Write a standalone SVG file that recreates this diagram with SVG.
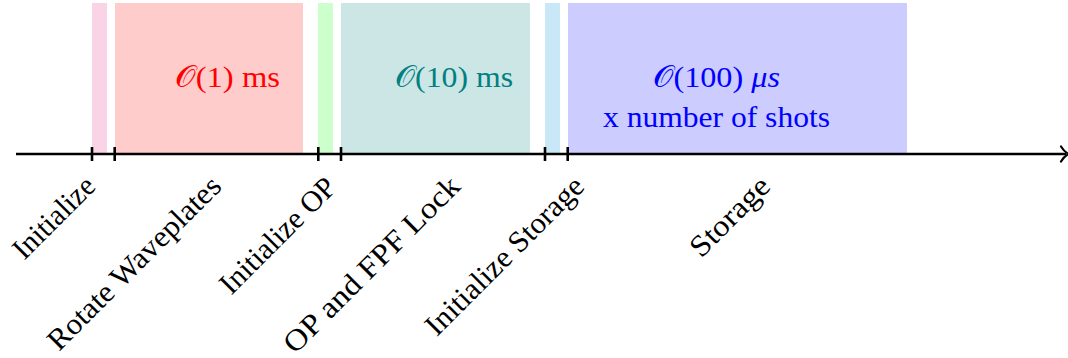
<svg xmlns="http://www.w3.org/2000/svg" width="1068" height="358" viewBox="0 0 1068 358">
<style>
.lbl{font-family:"Liberation Serif","DejaVu Serif",serif;font-size:30px;fill:#000;text-anchor:end}
.dur{font-family:"Liberation Serif","DejaVu Serif",serif;font-size:30px;text-anchor:middle}
.tick{stroke:#000;stroke-width:2.6}
</style>
<rect width="1068" height="358" fill="#fff"/>
<g id="phase-initialize"><rect x="92" y="3" width="15" height="151" fill="#f8d4e6"/><text class="lbl" transform="translate(97,188) rotate(-45)" textLength="103" lengthAdjust="spacingAndGlyphs">Initialize</text></g>
<g id="phase-rotate"><rect x="115" y="3" width="188" height="151" fill="#ffcccc"/><text class="dur" x="227.5" y="87" fill="#ff0000" textLength="105" lengthAdjust="spacingAndGlyphs">𝒪(1) ms</text><text class="lbl" transform="translate(223,188) rotate(-45)" textLength="232" lengthAdjust="spacingAndGlyphs">Rotate Waveplates</text></g>
<g id="phase-init-op"><rect x="318" y="3" width="15" height="151" fill="#ccffcc"/><text class="lbl" transform="translate(338,189) rotate(-45)" textLength="151" lengthAdjust="spacingAndGlyphs">Initialize OP</text></g>
<g id="phase-op-lock"><rect x="341" y="3" width="189" height="151" fill="#cce6e6"/><text class="dur" x="454" y="87" fill="#008080" textLength="118" lengthAdjust="spacingAndGlyphs">𝒪(10) ms</text><text class="lbl" transform="translate(462,188) rotate(-45)" textLength="236" lengthAdjust="spacingAndGlyphs">OP and FPF Lock</text></g>
<g id="phase-init-storage"><rect x="545" y="3" width="15" height="151" fill="#c8e8f8"/><text class="lbl" transform="translate(586,188) rotate(-45)" textLength="211" lengthAdjust="spacingAndGlyphs">Initialize Storage</text></g>
<g id="phase-storage"><rect x="568" y="3" width="339" height="151" fill="#ccccff"/><text class="dur" x="716.5" y="87" fill="#0000ff" textLength="127" lengthAdjust="spacingAndGlyphs">𝒪(100) <tspan font-style="italic">μs</tspan></text><text class="dur" x="716.5" y="127" fill="#0000ff" textLength="227" lengthAdjust="spacingAndGlyphs">x number of shots</text><text class="lbl" transform="translate(772,188) rotate(-45)" textLength="100" lengthAdjust="spacingAndGlyphs">Storage</text></g>
<g id="connectors">
<line x1="16" y1="154" x2="1066" y2="154" stroke="#000" stroke-width="2.6"/>
<path d="M1061,146.5 C1063,150 1066,152.5 1068.5,154 C1066,155.5 1063,158 1061,161.5" fill="none" stroke="#000" stroke-width="2.2" stroke-linecap="round"/>
<line class="tick" x1="92" y1="147" x2="92" y2="161"/>
<line class="tick" x1="114.7" y1="147" x2="114.7" y2="161"/>
<line class="tick" x1="318.3" y1="147" x2="318.3" y2="161"/>
<line class="tick" x1="341" y1="147" x2="341" y2="161"/>
<line class="tick" x1="545" y1="147" x2="545" y2="161"/>
<line class="tick" x1="567.7" y1="147" x2="567.7" y2="161"/>
</g>
</svg>
